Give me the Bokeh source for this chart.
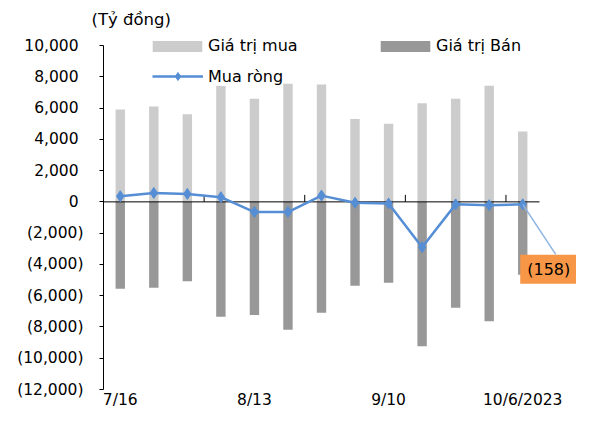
from bokeh.plotting import figure
from bokeh.models import (ColumnDataSource, FixedTicker, Label, Legend, LegendItem,
                          Arrow, Range1d)
from bokeh.embed import file_html
from bokeh.resources import INLINE

# ---------------- data ----------------
weeks = ["7/16", "7/23", "7/30", "8/6", "8/13", "8/20", "8/27",
         "9/3", "9/10", "9/17", "9/24", "10/1", "10/6/2023"]
buy = [5900, 6100, 5600, 7650, 6600, 7550, 7500, 5300, 5000, 6300, 6600, 7430, 4500]
sell = [-5550, -5500, -5080, -7340, -7240, -8180, -7090, -5360, -5170, -9240, -6770, -7640, -4660]
net = [360, 570, 510, 300, -650, -650, 400, -60, -110, -2900, -160, -210, -158]
y_ticks = list(range(-12000, 10001, 2000))
shown_weeks = [0, 4, 8, 12]
unit_label = "(Tỷ đồng)"
series_names = ["Giá trị mua", "Giá trị Bán", "Mua ròng"]

# ---------------- style ----------------
FONT = "DejaVu Sans"
LIGHT = "#CCCCCC"
DARK = "#989898"
BLUE = "#558ED5"
LEADER = "#8DB4E2"
ORANGE = "#F79646"

W, H = 576, 411
L_B, T_B = 103, 30
FRAME_BOTTOM = 389          # expected pixel row of the frame bottom
AX_TOP_PX = 45              # pixel row of the top y tick
N = len(weeks)
px_x = 436 / N              # px per category
X0 = -0.5
X1 = X0 + (W - L_B) / px_x
YMIN, YMAX = y_ticks[0], y_ticks[-1]
px_y = (FRAME_BOTTOM - AX_TOP_PX) / (YMAX - YMIN)
Y0 = YMIN
Y1 = YMAX + (AX_TOP_PX - T_B) / px_y


def fmt(t):
    if t < 0:
        return f"({abs(t):,})"
    return f"{t:,}\u00a0"


p = figure(width=W, height=H, output_backend="svg", toolbar_location=None,
           x_range=Range1d(X0, X1), y_range=Range1d(Y0, Y1),
           min_border_left=L_B, min_border_right=0, min_border_top=T_B,
           min_border_bottom=0, title=unit_label)
p.outline_line_color = None
p.grid.visible = False
p.background_fill_color = "white"

p.title.text_font = FONT
p.title.text_font_size = "16.5px"
p.title.text_font_style = "normal"
p.title.text_color = "black"
p.title.align = "left"
p.title.offset = -12
p.title.standoff = 4

x = list(range(N))
src = ColumnDataSource(dict(x=x, buy=buy, sell=sell, net=net))

buy_bars = p.vbar(x="x", top="buy", bottom=0, width=0.28, source=src,
                  fill_color=LIGHT, line_color=None)
sell_bars = p.vbar(x="x", top=0, bottom="sell", width=0.28, source=src,
                   fill_color=DARK, line_color=None)

# zero axis line with tick marks between every third category
p.segment(x0=[X0], x1=[N - 0.5], y0=[0], y1=[0], line_color="black", line_width=1)
bx = [i + 0.5 for i in range(2, N - 1, 3)]
p.segment(x0=bx, x1=bx, y0=[0] * len(bx), y1=[7 / px_y] * len(bx),
          line_color="black", line_width=1)

net_line = p.line(x="x", y="net", source=src, line_color=BLUE, line_width=2.5)
net_pts = p.scatter(x="x", y="net", source=src, marker="diamond",
                    size=11, fill_color=BLUE, line_color=BLUE)

# ---------------- axes ----------------
xa = p.xaxis[0]
xa.ticker = FixedTicker(ticks=shown_weeks)
xa.major_label_overrides = {i: weeks[i] for i in shown_weeks}
xa.axis_line_color = None
xa.major_tick_line_color = None
xa.minor_tick_line_color = None
xa.major_tick_out = 0
xa.major_tick_in = 0
xa.major_label_standoff = 1
xa.major_label_text_font = FONT
xa.major_label_text_font_size = "15.5px"
xa.major_label_text_color = "black"

ya = p.yaxis[0]
ya.ticker = FixedTicker(ticks=y_ticks)
ya.bounds = (YMIN, YMAX)
ya.major_label_overrides = {t: fmt(t) for t in y_ticks}
ya.axis_line_color = "black"
ya.major_tick_line_color = "black"
ya.minor_tick_line_color = None
ya.major_tick_out = 4
ya.major_tick_in = 0
ya.major_label_standoff = 16
ya.major_label_text_font = FONT
ya.major_label_text_font_size = "15.5px"
ya.major_label_text_color = "black"

# ---------------- legend ----------------
common = dict(border_line_color=None, background_fill_color="white",
              background_fill_alpha=1, padding=0, margin=0, spacing=0,
              label_text_font=FONT, label_text_font_size="16px",
              label_text_color="black")
bar_key = dict(glyph_width=62, glyph_height=14, label_height=14, label_standoff=0)
line_key = dict(glyph_width=51, glyph_height=20, label_height=20, label_standoff=5)

leg_buy = Legend(items=[LegendItem(label=series_names[0], renderers=[buy_bars])],
                 location=(146 - L_B, FRAME_BOTTOM - 55), **common, **bar_key)
leg_sell = Legend(items=[LegendItem(label=series_names[1], renderers=[sell_bars])],
                  location=(374 - L_B, FRAME_BOTTOM - 55), **common, **bar_key)
leg_net = Legend(items=[LegendItem(label=series_names[2], renderers=[net_line, net_pts])],
                 location=(152 - L_B, FRAME_BOTTOM - 86), **common, **line_key)
for lg in (leg_buy, leg_sell, leg_net):
    p.add_layout(lg)

# ---------------- callout for last net value ----------------
last = N - 1
dx_px, dy_px = 33, 50
p.add_layout(Arrow(end=None, x_start=last, y_start=net[last],
                   x_end=last + dx_px / px_x, y_end=net[last] - dy_px / px_y,
                   line_color=LEADER, line_width=1.5))
p.add_layout(Label(x=last, y=net[last], x_offset=26, y_offset=-65,
                   text=fmt(net[last]), text_font=FONT, text_font_size="16px",
                   text_color="black", text_align="center", text_baseline="middle",
                   background_fill_color=ORANGE, padding=(7, 5)))

open("out.html", "w").write(file_html(p, INLINE))
